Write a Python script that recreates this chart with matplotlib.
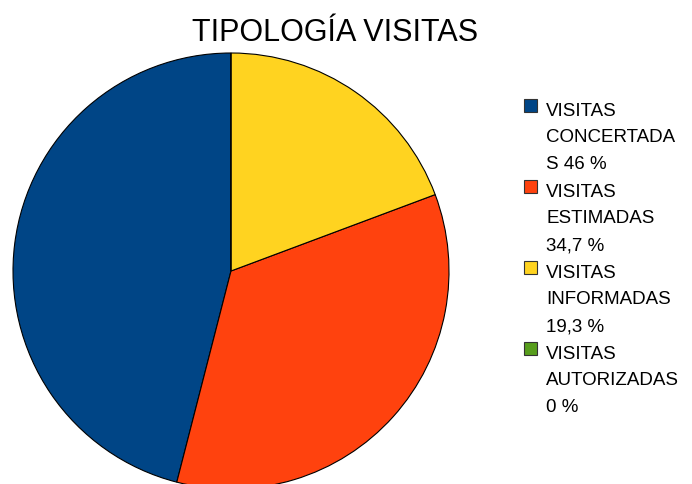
import matplotlib
matplotlib.use("Agg")
import matplotlib.pyplot as plt
from matplotlib.patches import Rectangle

title = "TIPOLOGÍA VISITAS"
categories = ["VISITAS\nCONCERTADA\nS", "VISITAS\nESTIMADAS", "VISITAS\nINFORMADAS", "VISITAS\nAUTORIZADAS"]
values = [46.0, 34.7, 19.3, 0.0]
value_labels = ["46 %", "34,7 %", "19,3 %", "0 %"]
colors = ["#004586", "#ff420e", "#ffd320", "#579d1c"]

plt.rcParams['font.family'] = ['Liberation Sans', 'DejaVu Sans']
W, H = 692, 485
fig = plt.figure(figsize=(W/100, H/100), dpi=100)

# pie centre (231, 272), radius 218 px; bottom extends below the figure edge
ax = fig.add_axes([13/W, 1 - 490/H, 436/W, 436/H])
ax.pie(values, colors=colors, startangle=90, counterclock=True,
       wedgeprops=dict(edgecolor='black', linewidth=0.8))
ax.set_aspect('auto')
ax.set_xlim(-1, 1)
ax.set_ylim(-1, 1)
ax.axis('off')

fig.text(335/W, 1 - 41.3/H, title, ha='center', va='baseline', fontsize=22)

for i, (cat, lab, col) in enumerate(zip(categories, value_labels, colors)):
    base = 115.7 + i*81
    fig.patches.append(Rectangle((524/W, 1 - (base - 3)/H), 13/W, 13/H,
                                 transform=fig.transFigure, facecolor=col,
                                 edgecolor='#333333', linewidth=0.8))
    lines = cat.split("\n")
    if lines[-1] == "S":
        lines[-1] = "S " + lab
    else:
        lines.append(lab)
    for j, ln in enumerate(lines):
        t = fig.text(546/W, 1 - (base + j*26.7)/H, ln, ha='left', va='baseline', fontsize=13.5)

fig.savefig("out.png", dpi=100)
